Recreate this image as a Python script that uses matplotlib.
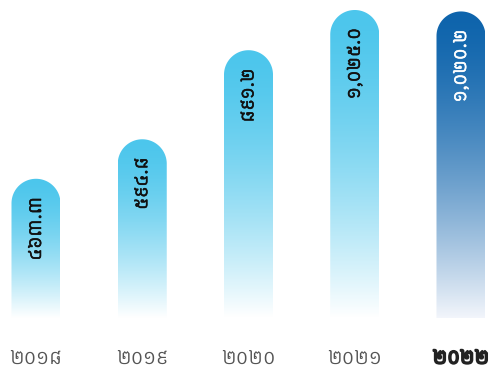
import numpy as np
import matplotlib
matplotlib.use("Agg")
import matplotlib.pyplot as plt
from matplotlib import font_manager
from matplotlib.patches import Polygon
import matplotlib.patheffects as pe

# data
years = ["២០១៨", "២០១៩", "២០២០", "២០២១", "២០២២"]
values = [463.3, 594.8, 891.2, 1025.0, 1020.2]
highlight = 4  # last year drawn dark and bold

khmer_digits = str.maketrans("0123456789", "០១២៣៤៥៦៧៨៩")
labels = [format(v, ",.1f").translate(khmer_digits) for v in values]

light_top = np.array([76, 198, 236]) / 255
dark_top = np.array([14, 100, 172]) / 255
dark_bottom = np.array([242, 245, 251]) / 255
white = np.ones(3)

kh_font = "/usr/share/fonts/truetype/google-fonts/KantumruyPro[wght].ttf"
fp_val = font_manager.FontProperties(fname=kh_font, size=14)
fp_year = font_manager.FontProperties(fname=kh_font, size=15)

W, H = 497, 374
fig = plt.figure(figsize=(W / 100, H / 100), dpi=100)
ax = fig.add_axes([0, 0, 1, 1])
ax.axis("off")

# pixel layout -> data units
x0_px, step_px = 36, 106.25
base_px, top_px = 56, 364
bar_px = 49
ppu = (top_px - base_px) / max(values)
xlim = (-x0_px / step_px, (W - x0_px) / step_px)
ylim = (-base_px / ppu, (H - base_px) / ppu)
rx = bar_px / 2 / step_px
ry = bar_px / 2 / ppu

def gradient(top, bottom, n=256):
    s = np.linspace(0, 1, n) ** 1.5
    col = top[None, :] * (1 - s[:, None]) + bottom[None, :] * s[:, None]
    return col[:, None, :]

theta = np.linspace(np.pi, 0, 60)
for i, v in enumerate(values):
    xc = i
    cap = np.column_stack([xc + rx * np.cos(theta), v - ry + ry * np.sin(theta)])
    verts = np.vstack([[xc - rx, 0], cap, [xc + rx, 0]])
    poly = Polygon(verts, closed=True, facecolor="none", edgecolor="none")
    ax.add_patch(poly)
    if i == highlight:
        g = gradient(dark_top, dark_bottom)
        txt_color = "white"
    else:
        g = gradient(light_top, white)
        txt_color = "#111111"
    im = ax.imshow(g, extent=(xc - rx, xc + rx, 0, v), aspect="auto",
                   interpolation="bilinear")
    im.set_clip_path(poly)

    ax.text(xc, v - 18 / ppu, labels[i], rotation=90, ha="center", va="top",
            color=txt_color, fontproperties=fp_val,
            path_effects=[pe.withStroke(linewidth=0.4, foreground=txt_color)])

    if i == highlight:
        ax.text(xc, (16 - base_px) / ppu, years[i], ha="center", va="center",
                color="#222222", fontproperties=fp_year,
                path_effects=[pe.withStroke(linewidth=1.4, foreground="#222222")])
    else:
        ax.text(xc, (16 - base_px) / ppu, years[i], ha="center", va="center",
                color="#555555", fontproperties=fp_year)

ax.set_xlim(*xlim)
ax.set_ylim(*ylim)
fig.savefig("out.png", dpi=100)
